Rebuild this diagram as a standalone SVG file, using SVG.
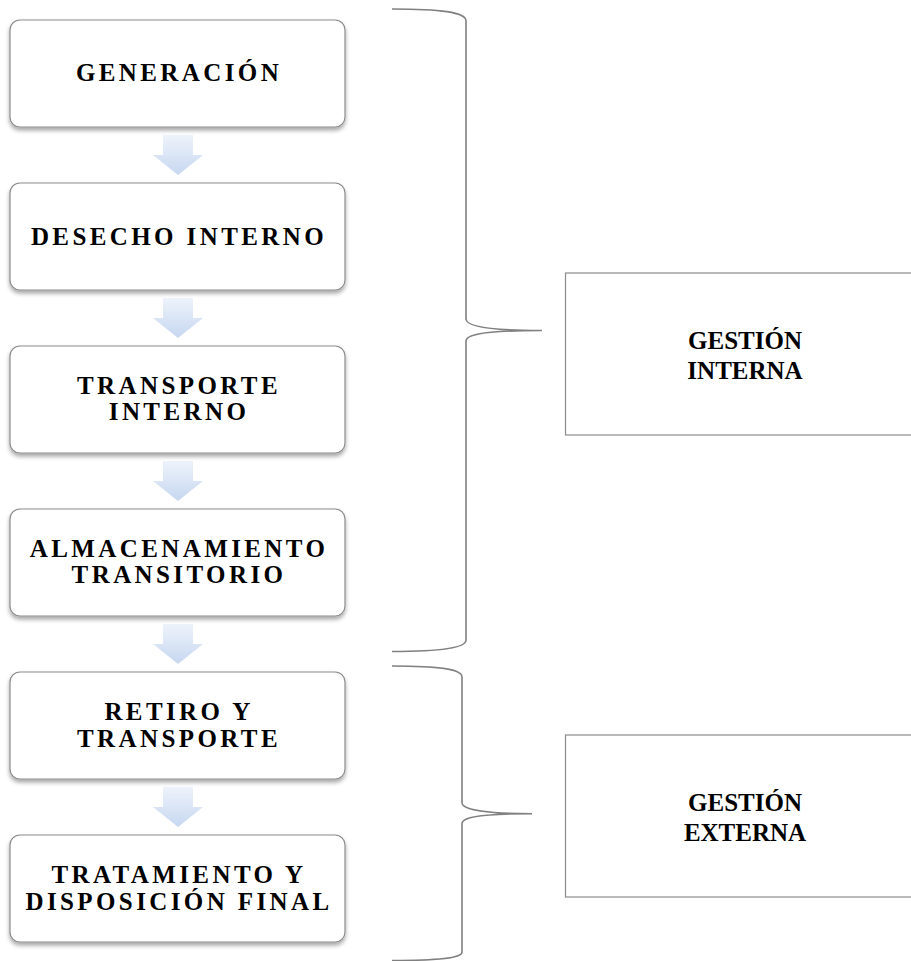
<svg xmlns="http://www.w3.org/2000/svg" width="911" height="961" viewBox="0 0 911 961">
<defs>
<filter id="sh" x="-10%" y="-10%" width="120%" height="130%">
<feDropShadow dx="0" dy="3" stdDeviation="2" flood-color="#000" flood-opacity="0.35"/>
</filter>
<linearGradient id="ag" x1="0" y1="0" x2="0" y2="1">
<stop offset="0" stop-color="#eef3fb"/>
<stop offset="1" stop-color="#c6d7f0"/>
</linearGradient>
<path id="arrow" d="M163,0 H193 V20 H203 L178,40 L153,20 H163 Z" fill="url(#ag)"/>
</defs>
<style>
.step{fill:#fff;stroke:#8c8c8c;stroke-width:1.2;filter:url(#sh)}
.st{font-weight:bold;font-size:25px;letter-spacing:3.4px;text-anchor:middle;fill:#000}
.gb{fill:#fff;stroke:#8c8c8c;stroke-width:1.2}
.gt{font-weight:bold;font-size:25px;text-anchor:middle;fill:#000}
.brace{fill:none;stroke:#808080;stroke-width:1.6}
</style>
<rect width="911" height="961" fill="#fff"/>
<g id="connectors">
<use href="#arrow" y="135"/>
<use href="#arrow" y="298"/>
<use href="#arrow" y="461"/>
<use href="#arrow" y="624"/>
<use href="#arrow" y="787"/>
<path class="brace" d="M392,9 C440,9 466,12 466,21 V319 C466,327 495,330.5 542,330.5 C495,330.5 466,333 466,341 V640 C466,648 440,651.5 392,651.5"/>
<path class="brace" d="M392,666 C440,666 462,669 462,677 V803 C462,810 490,813.7 532,813.7 C490,813.7 462,816 462,823.5 V952 C462,958 440,960.5 392,960.5"/>
</g>
<g font-family="Liberation Serif, DejaVu Serif, serif">
<g id="n1"><rect class="step" x="10" y="20" width="335" height="107" rx="10"/><text class="st" x="179" y="81">GENERACIÓN</text></g>
<g id="n2"><rect class="step" x="10" y="183" width="335" height="107" rx="10"/><text class="st" x="179" y="245">DESECHO INTERNO</text></g>
<g id="n3"><rect class="step" x="10" y="346" width="335" height="107" rx="10"/><text class="st" x="179" y="394">TRANSPORTE</text><text class="st" x="179" y="420">INTERNO</text></g>
<g id="n4"><rect class="step" x="10" y="509" width="335" height="107" rx="10"/><text class="st" x="179" y="557">ALMACENAMIENTO</text><text class="st" x="179" y="583">TRANSITORIO</text></g>
<g id="n5"><rect class="step" x="10" y="672" width="335" height="107" rx="10"/><text class="st" x="179" y="720">RETIRO Y</text><text class="st" x="179" y="747">TRANSPORTE</text></g>
<g id="n6"><rect class="step" x="10" y="835" width="335" height="107" rx="10"/><text class="st" x="179" y="883">TRATAMIENTO Y</text><text class="st" x="179" y="910">DISPOSICIÓN FINAL</text></g>
<g id="gi"><rect class="gb" x="565.5" y="273" width="370" height="162"/><text class="gt" x="745" y="349">GESTIÓN</text><text class="gt" x="745" y="379">INTERNA</text></g>
<g id="ge"><rect class="gb" x="565.5" y="735" width="370" height="162"/><text class="gt" x="745" y="811">GESTIÓN</text><text class="gt" x="745" y="841">EXTERNA</text></g>
</g>
</svg>
